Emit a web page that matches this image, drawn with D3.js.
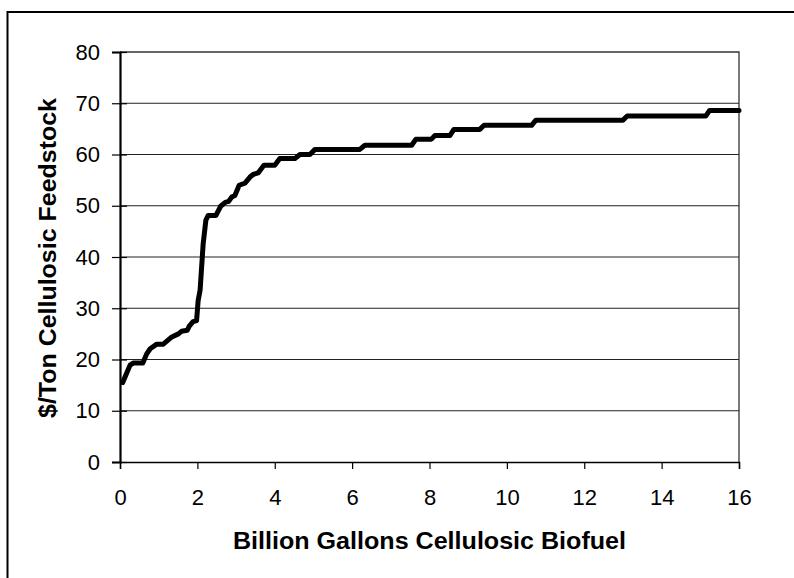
<!DOCTYPE html>
<html>
<head>
<meta charset="utf-8">
<script src="https://cdn.jsdelivr.net/npm/d3@7"></script>
<style>
  body { margin: 0; background: #fff; }
  text { font-family: "Liberation Sans", Arial, sans-serif; fill: #000; }
</style>
</head>
<body>
<div id="chart"></div>
<script>
const width = 794;
const height = 578;

// plot box
const margin = {left: 120, top: 52, right: 794 - 739, bottom: 578 - 462};

// supply curve: billion gallons vs $/ton
const gallons = [0.07, 0.13, 0.26, 0.34, 0.59, 0.69, 0.78, 0.95, 1.12, 1.34, 1.51, 1.59, 1.74, 1.79, 1.89, 1.98,
    2.02, 2.07, 2.15, 2.22, 2.28, 2.48, 2.60, 2.73, 2.80, 2.89, 2.97, 3.08, 3.23, 3.36, 3.44, 3.57, 3.72, 4.00,
    4.13, 4.52, 4.65, 4.91, 5.04, 6.20, 6.33, 7.54, 7.65, 8.05, 8.14, 8.53, 8.63, 9.30, 9.41, 10.64, 10.75,
    13.00, 13.11, 15.14, 15.24, 16.00];
const cost = [15.5, 16.6, 18.9, 19.3, 19.3, 21.1, 22.1, 23.0, 23.0, 24.4, 25.0, 25.5, 25.7, 26.5, 27.4, 27.6,
    31.5, 33.5, 42.6, 47.2, 48.1, 48.1, 49.9, 50.7, 50.8, 51.7, 52.0, 54.0, 54.4, 55.6, 56.1, 56.4, 57.9, 57.9,
    59.2, 59.2, 60.0, 60.0, 61.0, 61.0, 61.8, 61.8, 63.0, 63.0, 63.7, 63.7, 64.9, 64.9, 65.7, 65.7, 66.7,
    66.7, 67.5, 67.5, 68.6, 68.6];

const xTicks = [0, 2, 4, 6, 8, 10, 12, 14, 16];
const yTicks = [0, 10, 20, 30, 40, 50, 60, 70, 80];

const xTitle = "Billion Gallons Cellulosic Biofuel";
const yTitle = "$/Ton Cellulosic Feedstock";

const svg = d3.select("#chart").append("svg")
    .attr("width", width)
    .attr("height", height);

// outer frame (only top and left show inside the picture)
svg.append("path")
    .attr("d", `M7.5,${height} V12 H${width}`)
    .attr("fill", "none")
    .attr("stroke", "#000")
    .attr("stroke-width", 2);

const x = d3.scaleLinear()
    .domain([0, 16])
    .range([margin.left, width - margin.right]);

const y = d3.scaleLinear()
    .domain([0, 80])
    .range([height - margin.bottom, margin.top]);

// gridlines
svg.append("g")
    .selectAll("line")
    .data(yTicks.filter(d => d > 0 && d < 80))
    .join("line")
    .attr("x1", x(0))
    .attr("x2", x(16))
    .attr("y1", d => y(d))
    .attr("y2", d => y(d))
    .attr("stroke", "#222")
    .attr("stroke-width", 1);

// top + right border of plot area
svg.append("path")
    .attr("d", `M${x(0)},${y(80)} H${x(16)} V${y(0)}`)
    .attr("fill", "none")
    .attr("stroke", "#333")
    .attr("stroke-width", 1.3);

// axes
const xAxis = svg.append("g")
    .attr("transform", `translate(0,${y(0)})`)
    .call(d3.axisBottom(x).tickValues(xTicks).tickSize(7).tickPadding(20));

const yAxis = svg.append("g")
    .attr("transform", `translate(${x(0)},0)`)
    .call(d3.axisLeft(y).tickValues(yTicks).tickSize(8).tickPadding(12));

[xAxis, yAxis].forEach(g => {
    g.select(".domain").attr("stroke", "#000").attr("stroke-width", 1.5);
    g.selectAll(".tick line").attr("stroke", "#000").attr("stroke-width", 1.2);
    g.selectAll(".tick text")
        .style("font-family", "'Liberation Sans', Arial, sans-serif")
        .style("font-size", "22px")
        .attr("fill", "#000");
});
yAxis.select(".domain").attr("stroke-width", 2.2);
// y ticks cross the axis a little
yAxis.selectAll(".tick line").attr("x2", -8).attr("x1", 7);

// the curve
const line = d3.line()
    .x(d => x(d[0]))
    .y(d => y(d[1]));

svg.append("path")
    .datum(gallons.map((g, i) => [g, cost[i]]))
    .attr("d", line)
    .attr("fill", "none")
    .attr("stroke", "#000")
    .attr("stroke-width", 5)
    .attr("stroke-linejoin", "round")
    .attr("stroke-linecap", "round");

// titles
svg.append("text")
    .attr("x", (x(0) + x(16)) / 2)
    .attr("y", 549)
    .attr("text-anchor", "middle")
    .attr("textLength", 393)
    .attr("lengthAdjust", "spacingAndGlyphs")
    .style("font-size", "23px")
    .style("font-weight", "bold")
    .text(xTitle);

svg.append("text")
    .attr("transform", "translate(56,258) rotate(-90)")
    .attr("text-anchor", "middle")
    .attr("textLength", 320)
    .attr("lengthAdjust", "spacingAndGlyphs")
    .style("font-size", "23px")
    .style("font-weight", "bold")
    .text(yTitle);
</script>
</body>
</html>
